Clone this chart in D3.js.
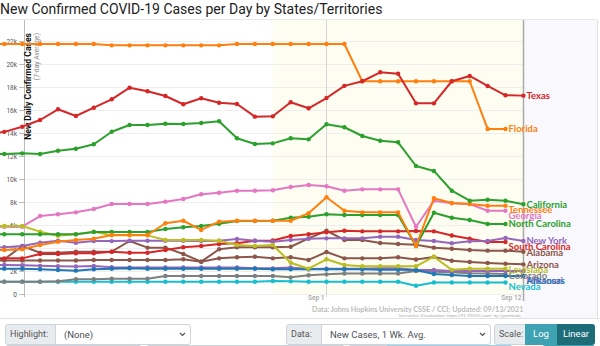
<!DOCTYPE html>
<html>
<head>
<meta charset="utf-8">
<script src="https://cdn.jsdelivr.net/npm/d3@7"></script>
<style>
  body { margin: 0; background: #fff; overflow: hidden; font-family: Roboto, "Helvetica Neue", Arial, sans-serif; }
  #wrap { position: relative; width: 600px; height: 346px; overflow: hidden; }
  #chart { position: absolute; left: 0; top: 0; }
  .box { position: absolute; box-sizing: border-box; height: 21px; border: 1px solid #ced4da; font-size: 9.5px; line-height: 19px; color: #495057; white-space: nowrap; overflow: hidden; }
  .addon { background: #e9ecef; color: #555; padding-left: 4px; font-size: 9px; }
  .sel { background: #fff; padding-left: 8px; }
  .sel svg { position: absolute; right: 4px; top: 7px; }
  .btn { color: #fff; text-align: center; border: none; }
</style>
</head>
<body>
<div id="wrap">
  <svg id="chart" width="600" height="320"></svg>
  <div id="controls"></div>
</div>
<script>
// dates on the x axis
const dates = ["2021-08-13","2021-08-14","2021-08-15","2021-08-16","2021-08-17","2021-08-18","2021-08-19",
  "2021-08-20","2021-08-21","2021-08-22","2021-08-23","2021-08-24","2021-08-25","2021-08-26","2021-08-27",
  "2021-08-28","2021-08-29","2021-08-30","2021-08-31","2021-09-01","2021-09-02","2021-09-03","2021-09-04",
  "2021-09-05","2021-09-06","2021-09-07","2021-09-08","2021-09-09","2021-09-10","2021-09-11","2021-09-12"];

// new cases per day, 7-day average, thousands
const texas = [13.9,14.1,14.55,15.13,16.06,15.48,16.2,16.93,17.94,17.63,17.22,16.5,17.02,16.63,16.52,15.42,15.45,
  16.67,16.15,17.04,18.1,18.5,19.28,19.16,16.58,16.58,18.5,18.96,18.09,17.28,17.25];
const florida = [21.74,21.74,21.74,21.74,21.74,21.74,21.74,21.62,21.62,21.62,21.62,21.62,21.62,21.62,
  21.74,21.74,21.74,21.74,21.74,21.74,21.74,18.5,18.5,18.5,18.5,18.5,18.5,18.5,14.35,14.35];
const california = [12.17,12.17,12.23,12.17,12.46,12.63,13.02,14.11,14.7,14.7,14.8,14.78,14.87,15.02,13.54,13.04,
  13.1,13.54,13.45,14.76,14.5,13.74,13.33,13.19,11.13,10.7,8.98,8.11,8.2,8.11,7.8];
const tennessee = [3.8,3.83,3.89,4.26,4.55,4.7,4.81,5.13,5.13,5.13,6.15,6.37,5.57,6.29,6.37,6.37,6.37,6.37,7.02,
  8.41,7.24,7.1,7.1,7.1,4.17,8.32,7.91,7.83,7.68,7.68];
const georgia = [5.85,5.85,5.85,6.78,6.93,7.1,7.39,7.83,7.83,7.83,8.03,8.26,8.67,8.81,8.98,8.98,9.02,9.3,9.48,
  9.37,8.98,9.1,9.1,9.1,5.85,8.11,7.89,7.83,7.24,7.24];
const northCarolina = [5.19,5.19,5.19,5.19,5.19,5.19,5.39,5.39,5.39,5.39,5.65,5.8,5.91,6.11,6.35,6.35,6.37,6.63,
  6.72,6.93,6.87,6.87,6.87,6.87,4.17,7.07,6.63,6.43,6.09,6.09];
const newYork = [4.0,4.06,4.17,4.46,4.63,4.46,4.6,4.6,4.63,4.63,4.63,4.63,4.6,4.63,4.78,4.63,4.55,4.7,4.81,4.84,
  4.84,4.84,4.98,4.98,4.7,4.61,4.41,4.58,4.61,4.87,4.61];
const southCarolina = [3.1,3.1,3.1,3.48,3.48,3.54,3.54,3.68,3.59,3.59,3.83,4.06,4.17,4.35,4.41,4.63,4.65,5.04,
  5.19,5.37,5.5,5.45,5.45,5.45,5.48,5.45,5.09,4.81,4.52,4.52];
const alabama = [2.9,3.02,4.17,3.59,3.59,3.68,3.68,3.68,4.61,4.03,4.03,3.48,2.81,3.89,4.06,4.06,4.06,4.11,4.84,
  5.5,4.7,4.7,4.43,4.35,4.29,4.03,3.94,3.83,3.77,3.77,3.68];
const arizona = [2.91,2.91,2.91,2.91,2.91,2.91,2.96,2.96,2.96,2.96,2.96,3.02,2.81,3.1,3.19,3.24,3.1,3.19,2.96,
  3.65,3.1,3.1,3.1,3.19,3.0,3.22,2.89,2.78,2.7,2.63,2.58];
const louisiana = [5.91,5.91,5.91,5.42,5.07,5.19,5.42,5.1,5.1,5.1,4.7,4.7,4.7,4.63,4.26,4.17,4.26,2.72,2.2,3.02,
  2.52,2.41,2.41,2.41,2.41,3.24,2.1,2.2,2.2,2.2];
const missouri = [2.52,2.52,2.5,2.45,2.42,2.4,2.43,2.33,2.3,2.3,2.3,2.3,2.3,2.3,2.3,2.25,2.23,2.3,2.17,2.2,2.2,
  2.2,2.23,2.25,2.09,2.09,2.0,2.0,2.0,2.0,2.0];
const arkansas = [2.2,2.2,2.2,2.15,2.09,2.03,2.15,2.2,2.23,2.2,2.2,2.2,2.2,2.2,2.2,2.2,2.15,2.15,2.15,2.15,2.15,
  2.15,2.1,2.1,2.09,1.74,1.65,1.57,1.57,1.57,1.57];
const colorado = [1.07,1.07,1.07,1.07,1.1,1.28,1.28,1.33,1.33,1.33,1.57,1.57,1.57,1.57,1.57,1.57,1.57,1.45,1.63,
  1.71,1.78,1.78,1.78,1.78,2.0,1.94,1.89,1.8,1.78,1.74];
const nevada = [1.07,1.07,1.07,1.07,1.07,1.07,1.07,1.07,1.07,1.07,1.07,1.07,1.07,1.07,1.07,1.07,1.13,1.1,1.07,
  1.07,1.07,1.07,1.07,1.07,0.72,1.0,1.0,1.0,1.0,1.0];

const yTicks = [0,2,4,6,8,10,12,14,16,18,20,22];
const xTickDates = ["2021-09-01","2021-09-12"];
const xTickLabels = ["Sep 1","Sep 12"];
const recentStart = "2021-08-29";

// drawing order: first is drawn underneath
const series = [
  {name: "Nevada", color: "#17becf", values: nevada},
  {name: "Colorado", color: "#7f7f7f", values: colorado},
  {name: "Missouri", color: "#9467bd", values: missouri, shareLabel: "Arkansas"},
  {name: "Arkansas", color: "#1f77b4", values: arkansas},
  {name: "Arizona", color: "#8c564b", values: arizona},
  {name: "Alabama", color: "#8c564b", values: alabama},
  {name: "South Carolina", color: "#d62728", values: southCarolina},
  {name: "New York", color: "#9467bd", values: newYork},
  {name: "Georgia", color: "#e377c2", values: georgia},
  {name: "Louisiana", color: "#bcbd22", values: louisiana},
  {name: "North Carolina", color: "#2ca02c", values: northCarolina},
  {name: "Tennessee", color: "#ff7f0e", values: tennessee},
  {name: "California", color: "#2ca02c", values: california},
  {name: "Florida", color: "#ff7f0e", values: florida},
  {name: "Texas", color: "#d62728", values: texas}
];

const parse = d3.utcParse("%Y-%m-%d");
const days = dates.map(parse);

const svg = d3.select("#chart");
const plotTop = 20, plotBottom = 294, axisX = 24, panelRight = 597;

const x = d3.scaleUtc()
  .domain([parse("2021-08-14"), parse("2021-09-12")])
  .range([4.3, 523.4]);
const y = d3.scaleLinear().domain([0, 22]).range([plotBottom, 41]);
const plotRight = x(parse("2021-09-12"));

// title
svg.append("text")
  .attr("x", 0).attr("y", 13.5)
  .attr("font-size", 14).attr("fill", "#222")
  .text("New Confirmed COVID-19 Cases per Day by States/Territories");

// backgrounds
svg.append("rect").attr("x", plotRight).attr("y", plotTop)
  .attr("width", panelRight - plotRight).attr("height", 298)
  .attr("fill", "#f8f8fd");
svg.append("rect").attr("x", x(parse(recentStart))).attr("y", plotTop)
  .attr("width", plotRight - x(parse(recentStart))).attr("height", plotBottom - plotTop)
  .attr("fill", "#fdfdf1");

// frame
svg.append("line").attr("x1", 0).attr("x2", panelRight).attr("y1", plotTop - 0.5).attr("y2", plotTop - 0.5)
  .attr("stroke", "#e8e8e8");
svg.append("line").attr("x1", panelRight + 0.5).attr("x2", panelRight + 0.5).attr("y1", plotTop).attr("y2", 318)
  .attr("stroke", "#e0e0e0");
svg.append("line").attr("x1", 0).attr("x2", 600).attr("y1", 318.5).attr("y2", 318.5)
  .attr("stroke", "#e3e3e3");

// horizontal grid
svg.append("g").selectAll("line").data(yTicks).join("line")
  .attr("x1", axisX).attr("x2", plotRight)
  .attr("y1", d => Math.round(y(d)) + 0.5).attr("y2", d => Math.round(y(d)) + 0.5)
  .attr("stroke", "#eeeeee");

// date markers
xTickDates.forEach((d, i) => {
  const xp = Math.round(x(parse(d))) + 0.5;
  svg.append("line").attr("x1", xp).attr("x2", xp).attr("y1", plotTop).attr("y2", i ? 301 : 297)
    .attr("stroke", i ? "#aaa" : "#d6d6d6").attr("stroke-width", i ? 1.5 : 1);
  svg.append("text").attr("x", xp - 2).attr("y", 300)
    .attr("text-anchor", "end").attr("font-size", 6.5).attr("font-weight", 600)
    .attr("fill", "#aaa").text(xTickLabels[i]);
});

// y axis
const yAxis = svg.append("g")
  .attr("transform", `translate(${axisX},0)`)
  .call(d3.axisLeft(y).tickValues(yTicks).tickSize(5).tickPadding(2)
    .tickFormat(d => d === 0 ? "0" : d + "k"));
yAxis.select(".domain").attr("stroke", "#bbb").attr("d", `M0.5,${plotTop}V${plotBottom + 3}`);
yAxis.selectAll(".tick line").attr("stroke", "#bbb");
yAxis.selectAll(".tick text").attr("font-size", 6.5).attr("fill", "#555")
  .attr("font-family", "Roboto, sans-serif");

svg.append("text")
  .attr("transform", "translate(31,33) rotate(-90)")
  .attr("text-anchor", "end").attr("font-size", 8.6).attr("font-weight", 700).attr("fill", "#111")
  .text("New Daily Confirmed Cases");
svg.append("text")
  .attr("transform", "translate(38.5,33) rotate(-90)")
  .attr("text-anchor", "end").attr("font-size", 6.8).attr("fill", "#888")
  .text("(7-day Average)");

// lines and points
const line = d3.line()
  .x((d, i) => x(days[i]))
  .y(d => y(d));

const g = svg.append("g");
series.forEach(s => {
  g.append("path").datum(s.values)
    .attr("fill", "none").attr("stroke", s.color).attr("stroke-width", 2)
    .attr("stroke-linejoin", "round").attr("d", line);
  g.append("g").selectAll("circle").data(s.values).join("circle")
    .attr("cx", (d, i) => x(days[i])).attr("cy", d => y(d)).attr("r", 2.2)
    .attr("fill", s.color);
});

// end labels, pushed apart so they don't collide
const labels = series.map(s => {
  const last = s.values.length - 1;
  return {name: s.name, color: s.color, share: s.shareLabel, x: x(days[last]) + 3, y: y(s.values[last])};
});
const stacked = labels.filter(d => !d.share).sort((a, b) => a.y - b.y);
for (let i = 1; i < stacked.length; i++) {
  stacked[i].y = Math.max(stacked[i].y, stacked[i - 1].y + 5.6);
}
labels.filter(d => d.share).forEach(d => {
  d.y = labels.find(o => o.name === d.share).y;
});
svg.append("g").selectAll("text").data(labels).join("text")
  .attr("x", d => d.x).attr("y", d => d.y).attr("dy", "0.35em")
  .attr("font-family", "Lato, sans-serif").attr("font-size", 9.5).attr("font-weight", 700)
  .attr("fill", d => d.color).text(d => d.name);

// source notes
svg.append("text").attr("x", plotRight).attr("y", 312)
  .attr("text-anchor", "end").attr("font-family", "Lato, sans-serif")
  .attr("font-size", 7.2).attr("font-weight", 700).attr("fill", "#bbb")
  .text("Data: Johns Hopkins University CSSE / CCI; Updated: 09/13/2021");
svg.append("text").attr("x", plotRight).attr("y", 316.5)
  .attr("text-anchor", "end").attr("font-family", "Lato, sans-serif")
  .attr("font-size", 4.4).attr("fill", "#aaa")
  .text("Interactive Visualization: https://91-DIVOC.com/ by @profwade_");

// control bar below the chart
const controls = [
  {cls: "addon", left: 5, width: 51, text: "Highlight:", radius: "3px 0 0 3px"},
  {cls: "sel", left: 55, width: 136, text: "(None)", radius: "0 3px 3px 0", chevron: true},
  {cls: "addon", left: 286, width: 36, text: "Data:", radius: "3px 0 0 3px"},
  {cls: "sel", left: 321, width: 170, text: "New Cases, 1 Wk. Avg.", radius: "0 3px 3px 0", chevron: true},
  {cls: "addon", left: 494, width: 32, text: "Scale:", radius: "3px 0 0 3px"},
  {cls: "btn", left: 525, width: 32, text: "Log", radius: "0", bg: "#3fa2b2"},
  {cls: "btn", left: 557, width: 38, text: "Linear", radius: "0 3px 3px 0", bg: "#1d6c78"},
  // next row, only its top edge is in view
  {cls: "addon", left: 5, width: 137, text: "", radius: "3px", top: 345},
  {cls: "sel", left: 146, width: 199, text: "", radius: "3px", top: 345},
  {cls: "addon", left: 348, width: 38, text: "", radius: "3px 0 0 3px", top: 345},
  {cls: "sel", left: 386, width: 127, text: "", radius: "0 3px 3px 0", top: 345, border: "#9fd0ea"},
  {cls: "btn", left: 542, width: 53, text: "", radius: "3px", top: 345, bg: "#3fa2b2"}
];
d3.select("#controls").selectAll("div").data(controls).join("div")
  .attr("class", d => "box " + d.cls)
  .style("left", d => d.left + "px")
  .style("top", d => (d.top || 324) + "px")
  .style("width", d => d.width + "px")
  .style("border-radius", d => d.radius)
  .style("background", d => d.bg || null)
  .style("border-color", d => d.border || null)
  .text(d => d.text)
  .each(function(d) {
    if (!d.chevron) return;
    d3.select(this).append("svg").attr("width", 7).attr("height", 5)
      .append("path").attr("d", "M1,1L3.5,3.5L6,1")
      .attr("fill", "none").attr("stroke", "#555").attr("stroke-width", 1.2);
  });
</script>
</body>
</html>
